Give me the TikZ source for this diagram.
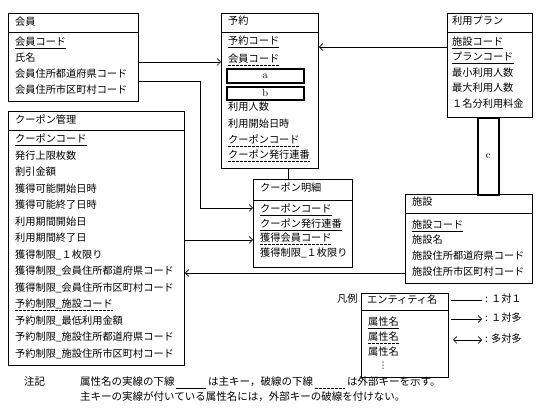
\documentclass[tikz,border=0pt]{standalone}
\usepackage{fontspec}
\newfontfamily\jp{Noto Sans CJK JP}
\newfontfamily\dv{DejaVu Sans}
\usetikzlibrary{arrows.meta}
\tikzset{
  ent/.style={draw, line width=0.8pt, anchor=north west, inner sep=0pt},
  hdr/.style={line width=0.8pt},
  attr/.style={anchor=west, inner sep=0pt, font=\jp\fontsize{10.2}{12}\selectfont, text height=8.2pt, text depth=2.4pt},
  note/.style={attr, font=\jp\fontsize{10.5}{12}\selectfont},
  pk/.style={attr, append after command={(\tikzlastnode.south west) edge[line width=0.6pt] (\tikzlastnode.south east)}},
  fk/.style={attr, append after command={(\tikzlastnode.south west) edge[line width=0.6pt, dash pattern=on 2.5pt off 1.5pt] (\tikzlastnode.south east)}},
  slot/.style={draw, line width=1.6pt, anchor=north west, inner sep=0pt, font=\fontsize{10.5}{12}\selectfont},
  conn/.style={line width=0.7pt},
  tip/.style={conn, -{Straight Barb[length=3.5pt,width=7pt]}},
  dtip/.style={conn, {Straight Barb[length=3.5pt,width=7pt]}-{Straight Barb[length=3.5pt,width=7pt]}},
}
\begin{document}
\begin{tikzpicture}[x=1pt,y=-1pt]
\useasboundingbox[fill=white] (0,0) rectangle (542,414);

% 会員
\node[ent, minimum width=130pt, minimum height=88pt] (kaiin) at (8,13) {};
\draw[hdr] (kaiin.west |- 0,32) -- (kaiin.east |- 0,32);
\node[attr] (kh) at (15,23) {会員};
\node[pk] (k1) at (15,43) {会員コード};
\node[attr] (k2) at (15,59) {氏名};
\node[attr] (k3) at (15,75) {会員住所都道府県コード};
\node[attr] (k4) at (15,90.5) {会員住所市区町村コード};

% 予約
\node[ent, minimum width=97pt, minimum height=155pt] (yoyaku) at (221,13) {};
\draw[hdr] (yoyaku.west |- 0,32) -- (yoyaku.east |- 0,32);
\node[attr] (yh) at (228,22) {予約};
\node[pk] (y1) at (228,42) {予約コード};
\node[fk] (y2) at (228,60) {会員コード};
\node[slot, minimum width=77pt, minimum height=14pt] (sa) at (226,68) {a};
\node[slot, minimum width=77pt, minimum height=13pt] (sb) at (226,86) {b};
\node[attr] (y5) at (228,108) {利用人数};
\node[attr] (y6) at (228,125) {利用開始日時};
\node[fk] (y7) at (228,141) {クーポンコード};
\node[fk] (y8) at (228,156) {クーポン発行連番};

% 利用プラン
\node[ent, minimum width=85pt, minimum height=104pt] (plan) at (447,13) {};
\draw[hdr] (plan.west |- 0,32) -- (plan.east |- 0,32);
\node[attr] (ph) at (452,22) {利用プラン};
\node[pk] (p1) at (452,43) {施設コード};
\node[pk] (p2) at (452,58) {プランコード};
\node[attr] (p3) at (452,74) {最小利用人数};
\node[attr] (p4) at (452,89) {最大利用人数};
\node[attr] (p5) at (452,105) {１名分利用料金};

% c
\node[slot, minimum width=21pt, minimum height=77pt] (sc) at (477,117) {c};

% 施設
\node[ent, minimum width=127pt, minimum height=89pt] (shisetsu) at (405,194) {};
\draw[hdr] (shisetsu.west |- 0,213) -- (shisetsu.east |- 0,213);
\node[attr] (sh) at (412,203) {施設};
\node[pk] (s1) at (412,226) {施設コード};
\node[attr] (s2) at (412,241) {施設名};
\node[attr] (s3) at (412,257) {施設住所都道府県コード};
\node[attr] (s4) at (412,273) {施設住所市区町村コード};

% クーポン管理
\node[ent, minimum width=176pt, minimum height=254pt] (kanri) at (8,111) {};
\draw[hdr] (kanri.west |- 0,130) -- (kanri.east |- 0,130);
\node[attr] (qh) at (15,121) {クーポン管理};
\node[pk] (q1) at (15,140) {クーポンコード};
\node[attr] (q2) at (15,156.5) {発行上限枚数};
\node[attr] (q3) at (15,173) {割引金額};
\node[attr] (q4) at (15,189.5) {獲得可能開始日時};
\node[attr] (q5) at (15,206) {獲得可能終了日時};
\node[attr] (q6) at (15,222.5) {利用期間開始日};
\node[attr] (q7) at (15,239) {利用期間終了日};
\node[attr] (q8) at (15,255.5) {獲得制限\_１枚限り};
\node[attr] (q9) at (15,272) {獲得制限\_会員住所都道府県コード};
\node[attr] (q10) at (15,288.5) {獲得制限\_会員住所市区町村コード};
\node[fk] (q11) at (15,305) {予約制限\_施設コード};
\node[attr] (q12) at (15,321.5) {予約制限\_最低利用金額};
\node[attr] (q13) at (15,338) {予約制限\_施設住所都道府県コード};
\node[attr] (q14) at (15,354.5) {予約制限\_施設住所市区町村コード};

% クーポン明細
\node[ent, minimum width=99pt, minimum height=88pt] (meisai) at (253,179) {};
\draw[hdr] (meisai.west |- 0,200) -- (meisai.east |- 0,200);
\node[attr] (mh) at (260,189) {クーポン明細};
\node[pk] (m1) at (260,210) {クーポンコード};
\node[pk] (m2) at (260,225) {クーポン発行連番};
\node[fk] (m3) at (260,239) {獲得会員コード};
\node[attr] (m4) at (260,253.5) {獲得制限\_１枚限り};

% connectors
\draw[tip] (kaiin.east |- 0,62) -- (yoyaku.west |- 0,62);
\draw[tip] (kaiin.east |- 0,81) -| (200,208) -- (meisai.west |- 0,208);
\draw[tip] (kanri.east |- 0,240) -- (meisai.west |- 0,240);
\draw[tip] (shisetsu.west |- 0,273) -- (kanri.east |- 0,273);
\draw[tip] (plan.west |- 0,47) -- (yoyaku.east |- 0,47);
\draw[conn] (yoyaku.south -| 288,0) -- (meisai.north -| 288,0);

% 凡例
\node[attr] (hanrei) at (337,300) {凡例};
\node[ent, minimum width=87pt, minimum height=84pt] (leg) at (361,293) {};
\draw[hdr] (leg.west |- 0,310) -- (leg.east |- 0,310);
\node[attr] (lh) at (367,301) {エンティティ名};
\node[pk] (lr1) at (368,323) {属性名};
\node[fk] (lr2) at (368,338) {属性名};
\node[attr] (lr3) at (368,352.5) {属性名};
\node[attr, anchor=center, font=\dv\fontsize{9}{10}\selectfont] (lr4) at (383,366) {⋮};
\coordinate (l1a) at (451,300); \coordinate (l1b) at (482,300);
\coordinate (l2a) at (451,319); \coordinate (l2b) at (482,319);
\coordinate (l3a) at (453,340); \coordinate (l3b) at (482,340);
\draw[conn] (l1a) -- (l1b);
\draw[tip] (l2a) -- (l2b);
\draw[dtip] (l3a) -- (l3b);
\node[attr] (lt1) at (485,300) {: １対１};
\node[attr] (lt2) at (485,319) {: １対多};
\node[attr] (lt3) at (485,340) {: 多対多};

% 注記
\node[note] (chu) at (24,383) {注記};
\node[note] (n1) at (80,383) {属性名の実線の下線};
\coordinate (u1a) at (176,388); \coordinate (u1b) at (206,388);
\draw[line width=0.6pt] (u1a) -- (u1b);
\node[note] (n2) at (208,383) {は主キー，破線の下線};
\coordinate (u2a) at (315,388); \coordinate (u2b) at (345,388);
\draw[line width=0.6pt, dash pattern=on 2.5pt off 1.5pt] (u2a) -- (u2b);
\node[note] (n3) at (347,383) {は外部キーを示す。};
\node[note] (n4) at (80,398) {主キーの実線が付いている属性名には，外部キーの破線を付けない。};
\end{tikzpicture}
\end{document}
